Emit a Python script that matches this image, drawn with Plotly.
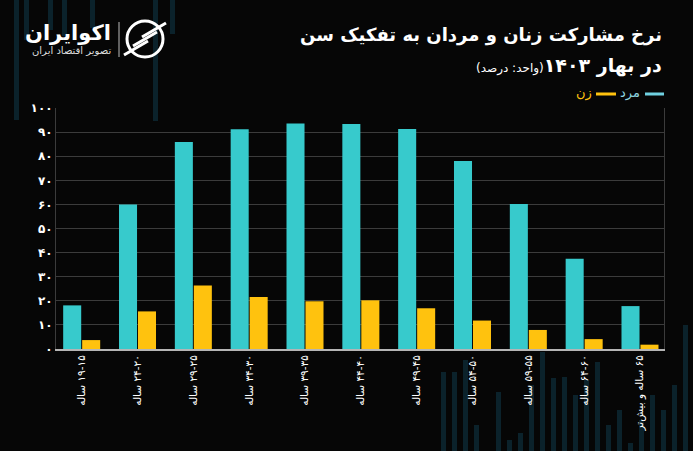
import plotly.graph_objects as go

# گروه‌های سنی (بهار ۱۴۰۳)
age_groups = ["۱۵-۱۹ ساله", "۲۰-۲۴ ساله", "۲۵-۲۹ ساله", "۳۰-۳۴ ساله", "۳۵-۳۹ ساله",
              "۴۰-۴۴ ساله", "۴۵-۴۹ ساله", "۵۰-۵۴ ساله", "۵۵-۵۹ ساله", "۶۰-۶۴ ساله",
              "۶۵ ساله و بیش‌تر"]
men = [18.1, 60.0, 85.9, 91.2, 93.6, 93.4, 91.3, 78.0, 60.2, 37.5, 17.8]
women = [3.7, 15.6, 26.3, 21.6, 19.8, 20.2, 16.9, 11.8, 7.9, 4.1, 1.8]
y_ticks = [0, 10, 20, 30, 40, 50, 60, 70, 80, 90, 100]
fa_digits = "۰۱۲۳۴۵۶۷۸۹"

W, H = 693, 451
L, R, T, B = 56, 29, 108, 102
CYAN = "#37CACC"
YELLOW = "#FFC20E"
FONT = "DejaVu Sans"


def fa(n):
    return "".join(fa_digits[int(d)] for d in str(n))


def px(x):
    return (x - L) / (W - L - R)


def py(y):
    return (H - B - y) / (H - T - B)


fig = go.Figure()
fig.add_trace(go.Bar(x=age_groups, y=men, name="مرد", marker_color=CYAN, marker_line_width=0))
fig.add_trace(go.Bar(x=age_groups, y=women, name="زن", marker_color=YELLOW, marker_line_width=0))

# نوارهای تزئینی پس‌زمینه
stripes_top = [(14, 120), (24, 40), (48, 30), (62, 36), (90, 28), (153, 121), (170, 34)]
stripes_bottom = [(441, 372), (452, 372), (463, 360), (474, 425), (496, 392), (507, 440),
                  (518, 433), (529, 385), (540, 352), (551, 378), (562, 377), (573, 395),
                  (584, 380), (595, 362), (606, 425), (617, 410), (628, 443), (639, 420),
                  (650, 395), (661, 410), (672, 385), (683, 325)]
shapes = []
for x, y1 in stripes_top:
    shapes.append(dict(type="rect", xref="paper", yref="paper", x0=px(x), x1=px(x + 5),
                       y0=py(y1), y1=py(0), fillcolor="#0b222b", line_width=0, layer="below"))
for x, y0 in stripes_bottom:
    shapes.append(dict(type="rect", xref="paper", yref="paper", x0=px(x), x1=px(x + 5),
                       y0=py(H), y1=py(y0), fillcolor="#0b222b", line_width=0, layer="below"))

# نشان لوگو
shapes.append(dict(type="line", xref="paper", yref="paper", x0=px(119), x1=px(119),
                   y0=py(22), y1=py(57), line=dict(color="#bbbbbb", width=1)))
shapes.append(dict(type="circle", xref="paper", yref="paper", x0=px(127), x1=px(163),
                   y0=py(57), y1=py(21), line=dict(color="white", width=3)))
for off in (-9, 0, 9):
    shapes.append(dict(type="line", xref="paper", yref="paper", x0=px(133 + off), x1=px(157 + off),
                       y0=py(46 - off), y1=py(32 - off), line=dict(color="white", width=3)))

# راهنمای دستی
shapes.append(dict(type="line", xref="paper", yref="paper", x0=px(645), x1=px(664),
                   y0=py(94), y1=py(94), line=dict(color="#6fd0e0", width=3)))
shapes.append(dict(type="line", xref="paper", yref="paper", x0=px(596), x1=px(616),
                   y0=py(94), y1=py(94), line=dict(color=YELLOW, width=3)))

RLM = "\u200F"
annotations = [
    dict(text="<b>نرخ مشارکت زنان و مردان به تفکیک سن</b>", x=px(664), y=py(35),
         xanchor="right", yanchor="middle", font=dict(size=18, color="white", family=FONT)),
    dict(text=RLM + "<b>در بهار ۱۴۰۳</b><span style='font-size:12px'>(واحد: درصد)</span>" + RLM,
         x=px(664), y=py(65), xanchor="right", yanchor="middle",
         font=dict(size=19, color="white", family=FONT)),
    dict(text="مرد", x=px(642), y=py(93), xanchor="right", yanchor="middle",
         font=dict(size=13, color="#8fd6e0", family=FONT)),
    dict(text="زن", x=px(594), y=py(93), xanchor="right", yanchor="middle",
         font=dict(size=13, color=YELLOW, family=FONT)),
    dict(text="<b>اکوایران</b>", x=px(113), y=py(33), xanchor="right", yanchor="middle",
         font=dict(size=21, color="white", family=FONT)),
    dict(text="تصویر اقتصاد ایران", x=px(113), y=py(51), xanchor="right", yanchor="middle",
         font=dict(size=10, color="#dddddd", family=FONT)),
]
for a in annotations:
    a.update(xref="paper", yref="paper", showarrow=False)

fig.update_layout(
    width=W, height=H,
    margin=dict(l=L, r=R, t=T, b=B),
    paper_bgcolor="#060606",
    plot_bgcolor="#060606",
    barmode="group",
    bargap=0.32,
    bargroupgap=0.05,
    showlegend=False,
    font=dict(family=FONT, color="white"),
    shapes=shapes,
    annotations=annotations,
    xaxis=dict(
        tickvals=age_groups,
        ticktext=["\u061C" + a for a in age_groups],
        tickangle=-90,
        tickfont=dict(size=10.5, color="white", family=FONT),
        showline=True, linecolor="#b5b5b5", linewidth=2,
        showgrid=False, ticks="",
        range=[-0.46, 10.43],
    ),
    yaxis=dict(
        range=[0, 100],
        tickvals=y_ticks,
        ticktext=["<b>" + fa(v) + "</b>" for v in y_ticks],
        tickfont=dict(size=12, color="white", family=FONT),
        showgrid=True, gridcolor="#3b3b3b", gridwidth=1,
        showline=True, mirror=True, linecolor="#3b3b3b", linewidth=1,
        zeroline=False, ticks="",
    ),
)

fig.write_html("out.html", config={"displayModeBar": False},
               post_script="document.body.style.margin='0';")
